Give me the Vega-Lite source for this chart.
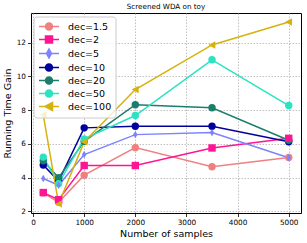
{
  "$schema": "https://vega.github.io/schema/vega-lite/v6.json",
  "width": 270,
  "height": 200,
  "autosize": {"type": "none"},
  "padding": {"left": 31, "top": 13, "right": 6, "bottom": 30},
  "title": {"text": "Screened WDA on toy", "font": "DejaVu Sans", "fontSize": 7.2, "fontWeight": "normal", "color": "black", "anchor": "middle", "offset": 3},
  "config": {
    "view": {"stroke": "black", "strokeWidth": 1},
    "axis": {
      "labelFont": "DejaVu Sans", "labelFontSize": 7.3, "labelColor": "black",
      "titleFont": "DejaVu Sans", "titleFontSize": 9.5, "titleFontWeight": "normal", "titleColor": "black",
      "domain": false, "tickColor": "black", "tickSize": 3.5, "tickWidth": 0.8, "labelPadding": 2,
      "grid": true, "gridColor": "#b0b0b0", "gridDash": [1.5, 1.5], "gridWidth": 0.8
    }
  },
  "data": {"values": [
    {"n": 200, "gain": 3.1, "series": "dec=1.5"},
    {"n": 500, "gain": 2.55, "series": "dec=1.5"},
    {"n": 1000, "gain": 4.15, "series": "dec=1.5"},
    {"n": 2000, "gain": 5.78, "series": "dec=1.5"},
    {"n": 3500, "gain": 4.65, "series": "dec=1.5"},
    {"n": 5000, "gain": 5.2, "series": "dec=1.5"},
    {"n": 200, "gain": 3.12, "series": "dec=2"},
    {"n": 500, "gain": 2.7, "series": "dec=2"},
    {"n": 1000, "gain": 4.72, "series": "dec=2"},
    {"n": 2000, "gain": 4.72, "series": "dec=2"},
    {"n": 3500, "gain": 5.76, "series": "dec=2"},
    {"n": 5000, "gain": 6.33, "series": "dec=2"},
    {"n": 200, "gain": 3.95, "series": "dec=5"},
    {"n": 500, "gain": 3.55, "series": "dec=5"},
    {"n": 1000, "gain": 5.37, "series": "dec=5"},
    {"n": 2000, "gain": 6.55, "series": "dec=5"},
    {"n": 3500, "gain": 6.67, "series": "dec=5"},
    {"n": 5000, "gain": 5.18, "series": "dec=5"},
    {"n": 200, "gain": 4.75, "series": "dec=10"},
    {"n": 500, "gain": 3.8, "series": "dec=10"},
    {"n": 1000, "gain": 6.95, "series": "dec=10"},
    {"n": 2000, "gain": 7.05, "series": "dec=10"},
    {"n": 3500, "gain": 7.05, "series": "dec=10"},
    {"n": 5000, "gain": 6.13, "series": "dec=10"},
    {"n": 200, "gain": 5.0, "series": "dec=20"},
    {"n": 500, "gain": 4.0, "series": "dec=20"},
    {"n": 1000, "gain": 6.15, "series": "dec=20"},
    {"n": 2000, "gain": 8.32, "series": "dec=20"},
    {"n": 3500, "gain": 8.14, "series": "dec=20"},
    {"n": 5000, "gain": 6.22, "series": "dec=20"},
    {"n": 200, "gain": 5.22, "series": "dec=50"},
    {"n": 500, "gain": 3.65, "series": "dec=50"},
    {"n": 1000, "gain": 6.3, "series": "dec=50"},
    {"n": 2000, "gain": 7.68, "series": "dec=50"},
    {"n": 3500, "gain": 10.98, "series": "dec=50"},
    {"n": 5000, "gain": 8.27, "series": "dec=50"},
    {"n": 200, "gain": 7.72, "series": "dec=100"},
    {"n": 500, "gain": 2.45, "series": "dec=100"},
    {"n": 1000, "gain": 6.12, "series": "dec=100"},
    {"n": 2000, "gain": 9.22, "series": "dec=100"},
    {"n": 3500, "gain": 11.86, "series": "dec=100"},
    {"n": 5000, "gain": 13.22, "series": "dec=100"}
  ]},
  "encoding": {
    "x": {"field": "n", "type": "quantitative", "title": "Number of samples",
          "scale": {"domain": [-40, 5240], "nice": false, "zero": false},
          "axis": {"values": [0, 1000, 2000, 3000, 4000, 5000], "format": "d", "titlePadding": 3}},
    "y": {"field": "gain", "type": "quantitative", "title": "Running Time Gain",
          "scale": {"domain": [1.91, 13.75], "nice": false, "zero": false},
          "axis": {"values": [2, 4, 6, 8, 10, 12], "titlePadding": 4}},
    "color": {"field": "series", "type": "nominal",
      "scale": {"domain": ["dec=1.5", "dec=2", "dec=5", "dec=10", "dec=20", "dec=50", "dec=100"],
                "range": ["#f08080", "#ff1493", "#7b83ff", "#00009c", "#1b7d6c", "#2be3c2", "#d6b20d"]},
      "legend": {
        "orient": "none", "legendX": 2.5, "legendY": 3.5, "title": null,
        "labelFont": "DejaVu Sans", "labelFontSize": 9.5, "labelColor": "black",
        "symbolSize": 100, "rowPadding": -1, "labelOffset": 13, "padding": 4, "symbolOffset": 5.5,
        "fillColor": "rgba(255,255,255,0.8)", "strokeColor": "#cccccc", "cornerRadius": 3,
        "symbolStrokeWidth": 1.5,
        "encode": {"symbols": {"update": {
          "shape": {"signal": "datum.value === 'dec=2' ? 'M-2,0H2M-0.7,-0.7H0.7V0.7H-0.7Z' : datum.value === 'dec=5' ? 'M-2,0H2M0,-0.9L0.5,0L0,0.9L-0.5,0Z' : datum.value === 'dec=100' ? 'M-2,0H2M-0.8,0L0.7,-0.8V0.8Z' : 'M-2,0H2M0.7,0A0.7,0.7,0,1,1,-0.7,0A0.7,0.7,0,1,1,0.7,0Z'"},
          "fill": {"signal": "scale('color', datum.value)"},
          "stroke": {"signal": "scale('color', datum.value)"},
          "strokeWidth": {"value": 1.5},
          "opacity": {"value": 1}
        }}}
      }}
  },
  "layer": [
    {"mark": {"type": "line", "strokeWidth": 1.5}},
    {"transform": [{"filter": {"field": "series", "oneOf": ["dec=1.5", "dec=10", "dec=20", "dec=50"]}}],
     "mark": {"type": "point", "filled": true, "opacity": 1, "size": 55, "shape": "circle"}},
    {"transform": [{"filter": {"field": "series", "equal": "dec=2"}}],
     "mark": {"type": "point", "filled": true, "opacity": 1, "size": 55, "shape": "square"}},
    {"transform": [{"filter": {"field": "series", "equal": "dec=5"}}],
     "mark": {"type": "point", "filled": true, "opacity": 1, "size": 55, "shape": "M0,-1L0.6,0L0,1L-0.6,0Z"}},
    {"transform": [{"filter": {"field": "series", "equal": "dec=100"}}],
     "mark": {"type": "point", "filled": true, "opacity": 1, "size": 55, "shape": "M-1,0L0.9,-1V1Z"}}
  ]
}
